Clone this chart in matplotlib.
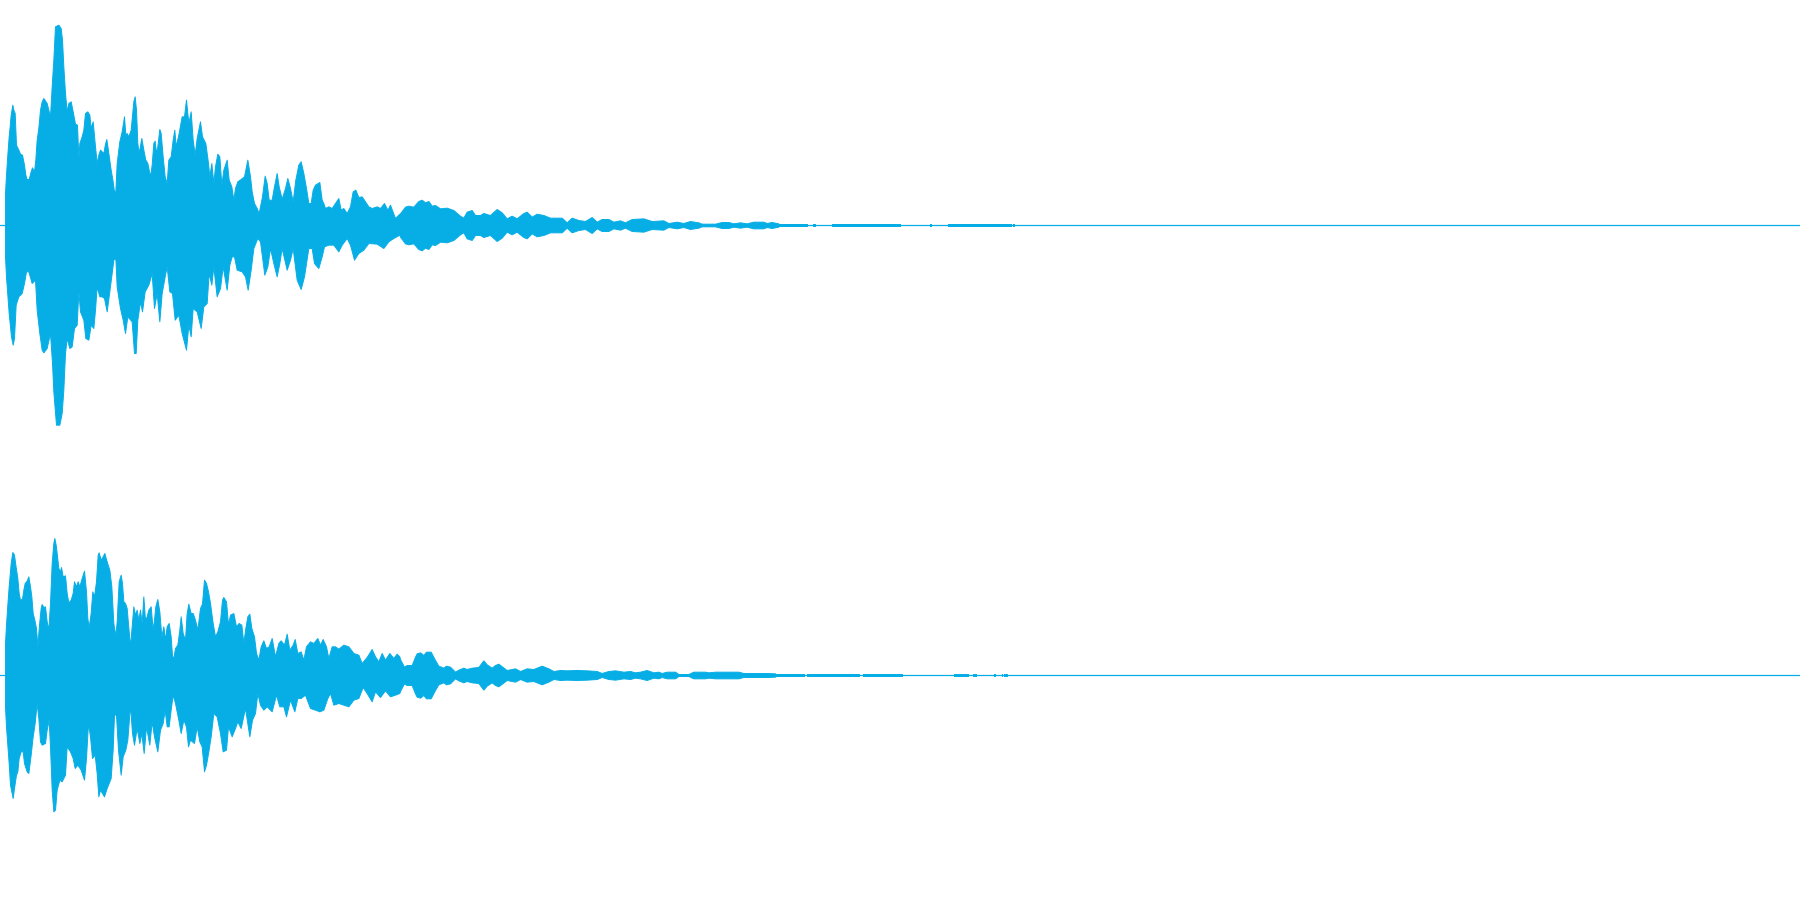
import matplotlib
matplotlib.use("Agg")
import matplotlib.pyplot as plt

# time axis: 5400 ticks across the clip; amplitude full scale = 675 levels
FULL_SCALE = 675
DURATION = 5400
COLOR = "#07AEE6"

top_pos_t = [15,18,22,26,29,32,37,40,44,48,55,60,66,72,76,80,86,92,96,102,106,110,115,120,125,130,140,150,155,160,165,175,182,186,190,195,200,205,212,218,225,231,235,238,245,250,255,262,268,272,278,285,290,295,300,310,315,319,325,332,338,342,346,350,358,365,372,376,380,385,392,400,404,408,412,416,424,430,436,442,450,455,460,464,468,472,478,482,488,494,500,505,512,518,523,527,535,545,552,558,565,572,578,584,590,600,606,616,624,628,634,640,645,652,658,664,670,680,686,694,700,705,712,722,732,742,750,755,762,770,776,780,786,794,800,806,815,822,830,836,845,855,862,870,878,886,895,902,910,918,925,932,938,945,958,965,970,975,985,995,1005,1015,1022,1030,1040,1050,1058,1066,1075,1085,1095,1105,1115,1130,1140,1152,1162,1170,1185,1195]
top_pos = [96,151,211,266,296,331,361,346,336,241,226,214,211,181,151,138,138,161,173,161,196,256,291,346,371,381,366,326,416,496,596,601,591,556,476,396,341,366,371,341,304,301,201,246,266,286,336,341,331,291,311,236,186,211,226,216,244,258,216,166,131,101,101,186,251,281,326,271,276,266,286,371,386,346,246,216,261,226,196,186,146,181,246,253,216,236,288,276,206,146,126,196,206,256,286,236,271,326,326,376,306,341,256,211,261,311,266,246,186,146,186,126,176,214,206,121,166,196,136,116,76,111,131,138,146,196,146,101,66,51,36,56,86,148,126,76,76,116,156,116,79,111,141,111,71,136,181,191,156,111,66,66,106,121,129,76,66,51,56,51,66,81,46,51,36,56,101,106,84,86,71,56,51,56,51,66,46,61,21,31]

top_neg_t = [15,18,22,26,29,33,38,42,47,55,65,72,78,85,95,105,110,118,125,130,140,150,156,160,168,178,185,190,195,200,208,215,222,230,235,240,250,256,265,272,280,285,290,298,305,312,320,326,335,340,346,350,360,368,375,382,395,402,407,412,420,426,434,445,455,462,470,478,485,495,500,508,516,524,535,545,558,565,572,578,590,602,610,620,626,634,640,650,660,668,680,688,695,702,710,725,735,743,752,760,772,780,793,802,810,820,830,838,845,860,870,878,890,902,912,925,935,942,955,965,972,985,1000,1015,1025,1040,1050,1062,1075,1090,1105,1130,1150,1165,1180,1198]
top_neg = [94,154,209,264,294,334,359,339,239,214,204,174,139,139,174,164,254,324,374,382,369,324,414,499,599,599,564,494,384,339,369,364,309,299,199,259,284,339,344,299,309,254,184,214,214,219,259,214,144,104,99,184,249,284,324,274,289,384,384,284,229,259,199,179,144,249,204,289,204,149,124,199,204,284,269,324,374,299,334,249,259,309,244,234,144,179,124,214,189,124,194,119,94,94,134,139,154,194,134,69,39,49,149,124,69,114,154,114,69,134,104,69,164,192,154,69,69,114,129,94,64,59,59,79,59,39,59,104,84,74,54,56,69,49,39,29]

top_tail_t = [1200,1215,1225,1240,1255,1265,1275,1285,1295,1305,1320,1340,1360,1380,1390,1400,1415,1425,1440,1450,1470,1490,1505,1520,1535,1550,1570,1580,1595,1610,1630,1650,1685,1700,1715,1735,1755,1775,1790,1805,1825,1840,1860,1875,1895,1930,1955,1990,2005,2030,2050,2070,2095,2105,2145,2165,2185,2200,2220,2240,2260,2290,2300,2315,2335]
top_tail = [35,55,58,55,72,76,68,72,58,60,50,52,45,28,22,40,45,30,30,36,30,48,38,20,28,20,36,40,25,34,30,22,22,8,22,15,12,24,10,18,18,10,14,8,18,20,12,14,6,10,6,12,8,4,4,9,9,5,8,5,10,10,6,9,5]
top_run_start = [2335,2439,2496,2790,2845,3038]
top_run_end = [2423,2448,2703,2796,3035,3045]

bot_pos_t = [15,18,22,26,29,32,37,42,46,52,56,60,66,70,74,80,85,90,94,98,103,108,112,115,118,122,125,130,135,140,145,150,155,160,163,167,170,175,180,183,188,195,200,205,212,218,222,228,233,238,245,252,258,262,266,272,277,282,288,293,296,302,308,313,320,328,334,340,346,350,356,362,366,370,375,380,386,390,395,400,405,410,415,420,425,430,435,440,445,452,458,462,466,472,478,484,490,495,500,506,512,516,520,525,532,538,542,548,555,560,565,572,578,585,592,600,606,612,618,624,630,638,645,652,660,666,670,678,684,690,700,708,716,724,730,736,742,748,754,762,768,775,782,790,798,806,815,825,835,842,852,860,868,878,884,892,902,910,918,930,940,952,960,968,978,985,995,1005,1015,1030,1045,1060,1075,1085,1100,1115,1125,1135,1145,1155,1168,1180,1190,1198]
bot_pos = [96,151,211,266,301,336,369,361,331,291,246,226,229,256,276,283,296,266,236,186,166,141,86,126,161,201,213,204,206,161,136,216,336,396,411,391,366,321,311,324,296,299,246,218,226,246,281,266,281,266,291,313,251,171,143,186,251,236,281,361,368,346,356,366,341,316,266,156,118,161,281,301,276,221,216,201,131,86,146,206,181,196,166,196,156,236,166,176,196,206,136,166,206,228,191,116,146,106,146,156,116,58,51,81,91,136,176,126,106,186,214,186,186,166,136,201,214,286,276,251,216,156,116,131,161,226,234,221,151,181,186,146,156,151,96,141,176,184,141,116,66,46,86,104,81,86,111,56,96,104,91,124,76,91,108,66,71,46,86,101,96,111,91,108,86,51,86,86,79,91,86,66,61,36,54,78,56,41,66,46,66,51,64,56]

bot_neg_t = [15,18,22,26,30,38,42,48,52,56,62,68,72,80,85,92,98,104,110,115,120,125,135,140,146,150,155,160,165,170,178,185,195,200,210,218,224,232,242,252,258,264,270,276,284,290,295,300,312,320,332,338,342,348,354,362,368,376,382,390,396,402,410,418,424,431,438,448,455,462,472,480,488,494,500,506,512,518,525,535,542,550,558,564,570,582,590,598,605,612,618,625,632,640,650,660,668,678,684,695,705,712,722,735,748,756,765,772,780,790,800,815,828,838,850,858,870,883,892,902,915,930,945,958,970,982,990,1000,1015,1030,1045,1060,1075,1088,1100,1115,1125,1140,1155,1170,1185,1198]
bot_neg = [94,154,209,264,329,369,339,299,289,249,229,229,264,289,294,239,184,144,84,129,199,209,204,164,134,214,344,409,404,344,314,319,299,214,229,249,279,269,284,314,249,144,184,249,239,294,364,344,364,339,309,224,119,119,224,299,244,224,194,89,174,209,159,204,174,234,154,209,139,184,229,164,144,104,154,154,104,59,84,134,174,134,154,214,194,204,154,199,214,289,269,229,184,114,124,174,229,224,154,184,159,139,159,99,184,134,114,54,89,104,94,109,59,94,94,124,74,109,69,69,59,99,104,109,104,69,54,89,84,89,94,74,69,36,54,79,49,66,46,64,59,54]

bot_tail_t = [1200,1212,1220,1235,1245,1250,1260,1270,1278,1292,1305,1315,1330,1338,1350,1365,1375,1390,1400,1415,1435,1450,1460,1475,1485,1495,1520,1545,1560,1580,1600,1625,1645,1660,1680,1700,1730,1760,1790,1805,1825,1845,1870,1890,1905,1920,1940,1960,1975,1985,2000,2025,2035,2065,2080,2115,2125,2145,2215,2230,2300,2325]
bot_tail = [48,25,30,30,55,65,68,60,70,70,45,28,22,28,25,10,16,22,18,22,24,44,32,22,30,34,15,20,12,20,18,28,20,12,15,14,15,14,12,6,12,14,10,12,8,10,15,8,10,6,10,10,3,3,10,10,8,10,10,6,6,5]
bot_run_start = [2325,2422,2589,2862,2920,2983,3007,3012]
bot_run_end = [2415,2580,2709,2907,2930,2988,3009,3024]

RUN_LEVEL = 4.5  # level of the low-amplitude tail bursts


def channel(ax, pos_t, pos, neg_t, neg, tail_t, tail, run_start, run_end):
    ax.fill_between(pos_t + tail_t, pos + tail, 0, color=COLOR, lw=0.7, antialiased=False)
    ax.fill_between(neg_t + tail_t, [-v for v in neg + tail], 0, color=COLOR, lw=0.7, antialiased=False)
    for s, e in zip(run_start, run_end):
        ax.fill_between([s, e], -RUN_LEVEL, RUN_LEVEL, color=COLOR, lw=0, antialiased=False)
    ax.axhline(0, color=COLOR, lw=0.9, zorder=1)
    ax.set_xlim(0, DURATION)
    ax.set_ylim(-FULL_SCALE, FULL_SCALE)
    ax.axis("off")


fig = plt.figure(figsize=(18, 9), dpi=100, facecolor="white")
ax_top = fig.add_axes([0, 0.5, 1, 0.5])
ax_bot = fig.add_axes([0, 0, 1, 0.5])
channel(ax_top, top_pos_t, top_pos, top_neg_t, top_neg, top_tail_t, top_tail, top_run_start, top_run_end)
channel(ax_bot, bot_pos_t, bot_pos, bot_neg_t, bot_neg, bot_tail_t, bot_tail, bot_run_start, bot_run_end)
fig.savefig("out.png", dpi=100)
